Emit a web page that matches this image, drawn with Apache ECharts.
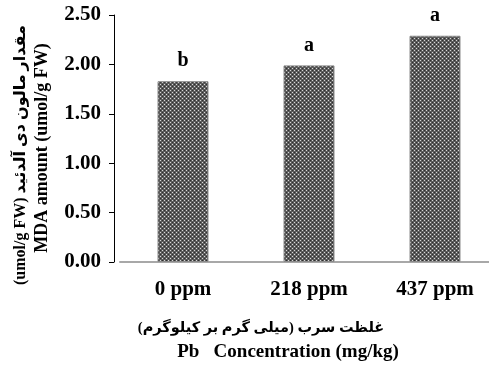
<!DOCTYPE html>
<html>
<head>
<meta charset="utf-8">
<script src="https://cdn.jsdelivr.net/npm/echarts@6/dist/echarts.min.js"></script>
<style>
  html, body { margin: 0; padding: 0; background: #fff; }
  #main { width: 489px; height: 374px; }
</style>
</head>
<body>
<div id="main"></div>
<script>
var categories = ['0 ppm', '218 ppm', '437 ppm'];
var mdaValues = [1.83, 1.99, 2.29];
var groupLetters = ['b', 'a', 'a'];

var yTitleFa = '(umol/g FW) مقدار مالون دی آلدئید';
var yTitleEn = 'MDA amount (umol/g FW)';
var xTitleFa = 'غلظت سرب (میلی گرم بر کیلوگرم)';
var xTitleEn = 'Pb   Concentration (mg/kg)';

var serif = 'Liberation Serif, Times New Roman, DejaVu Sans, serif';

// dotted fill like the original hatch
function makePattern(){
    var c = document.createElement('canvas');
    c.width = 4; c.height = 4;
    var ctx = c.getContext('2d');
    ctx.fillStyle = '#5c5c5c';
    ctx.fillRect(0, 0, 4, 4);
    ctx.fillStyle = '#d8d8d8';
    ctx.fillRect(0, 0, 1, 1);
    ctx.fillRect(2, 2, 1, 1);
    ctx.fillStyle = '#2e2e2e';
    ctx.fillRect(2, 0, 1, 1);
    ctx.fillRect(0, 2, 1, 1);
    return c;
}

function titleText(txt, x, y, size, rot){
    return {
        type: 'text', x: x, y: y, rotation: rot || 0,
        style: {
            text: txt, fill: '#000', fontFamily: serif, fontWeight: 'bold', fontSize: size,
            align: 'center', verticalAlign: 'middle'
        }
    };
}

var myChart = echarts.init(document.getElementById('main'));
var option = {
    animation: false,
    grid: { left: 120, top: 15, width: 378, height: 247, outerBoundsMode: 'none', containLabel: false },
    xAxis: {
        type: 'category',
        data: categories,
        axisLine: { lineStyle: { color: '#a8a8a8', width: 2 } },
        axisTick: { show: false },
        axisLabel: { color: '#000', fontFamily: serif, fontWeight: 'bold', fontSize: 21, margin: 17 }
    },
    yAxis: {
        type: 'value',
        min: 0, max: 2.5, interval: 0.5,
        offset: 6,
        splitLine: { show: false },
        axisLine: { show: true, lineStyle: { color: '#000', width: 1 } },
        axisTick: { show: true, length: 5, lineStyle: { color: '#000' } },
        axisLabel: {
            color: '#000', fontFamily: serif, fontWeight: 'bold', fontSize: 21, margin: 13,
            formatter: function(v){ return v.toFixed(2); }
        }
    },
    graphic: [
        titleText(yTitleFa, 21, 155, 16, Math.PI / 2),
        titleText(yTitleEn, 42, 148, 18, Math.PI / 2),
        titleText(xTitleFa, 261, 328, 14.5),
        titleText(xTitleEn, 288, 352, 19)
    ],
    series: [{
        type: 'bar',
        data: mdaValues,
        barWidth: 51,
        itemStyle: {
            color: { image: makePattern(), repeat: 'repeat' },
            borderColor: '#8a8a8a',
            borderWidth: 1
        },
        label: {
            show: true,
            position: 'top',
            distance: 10,
            color: '#000',
            fontFamily: serif,
            fontWeight: 'bold',
            fontSize: 20,
            formatter: function(p){ return groupLetters[p.dataIndex]; }
        }
    }]
};
myChart.setOption(option);
</script>
</body>
</html>
